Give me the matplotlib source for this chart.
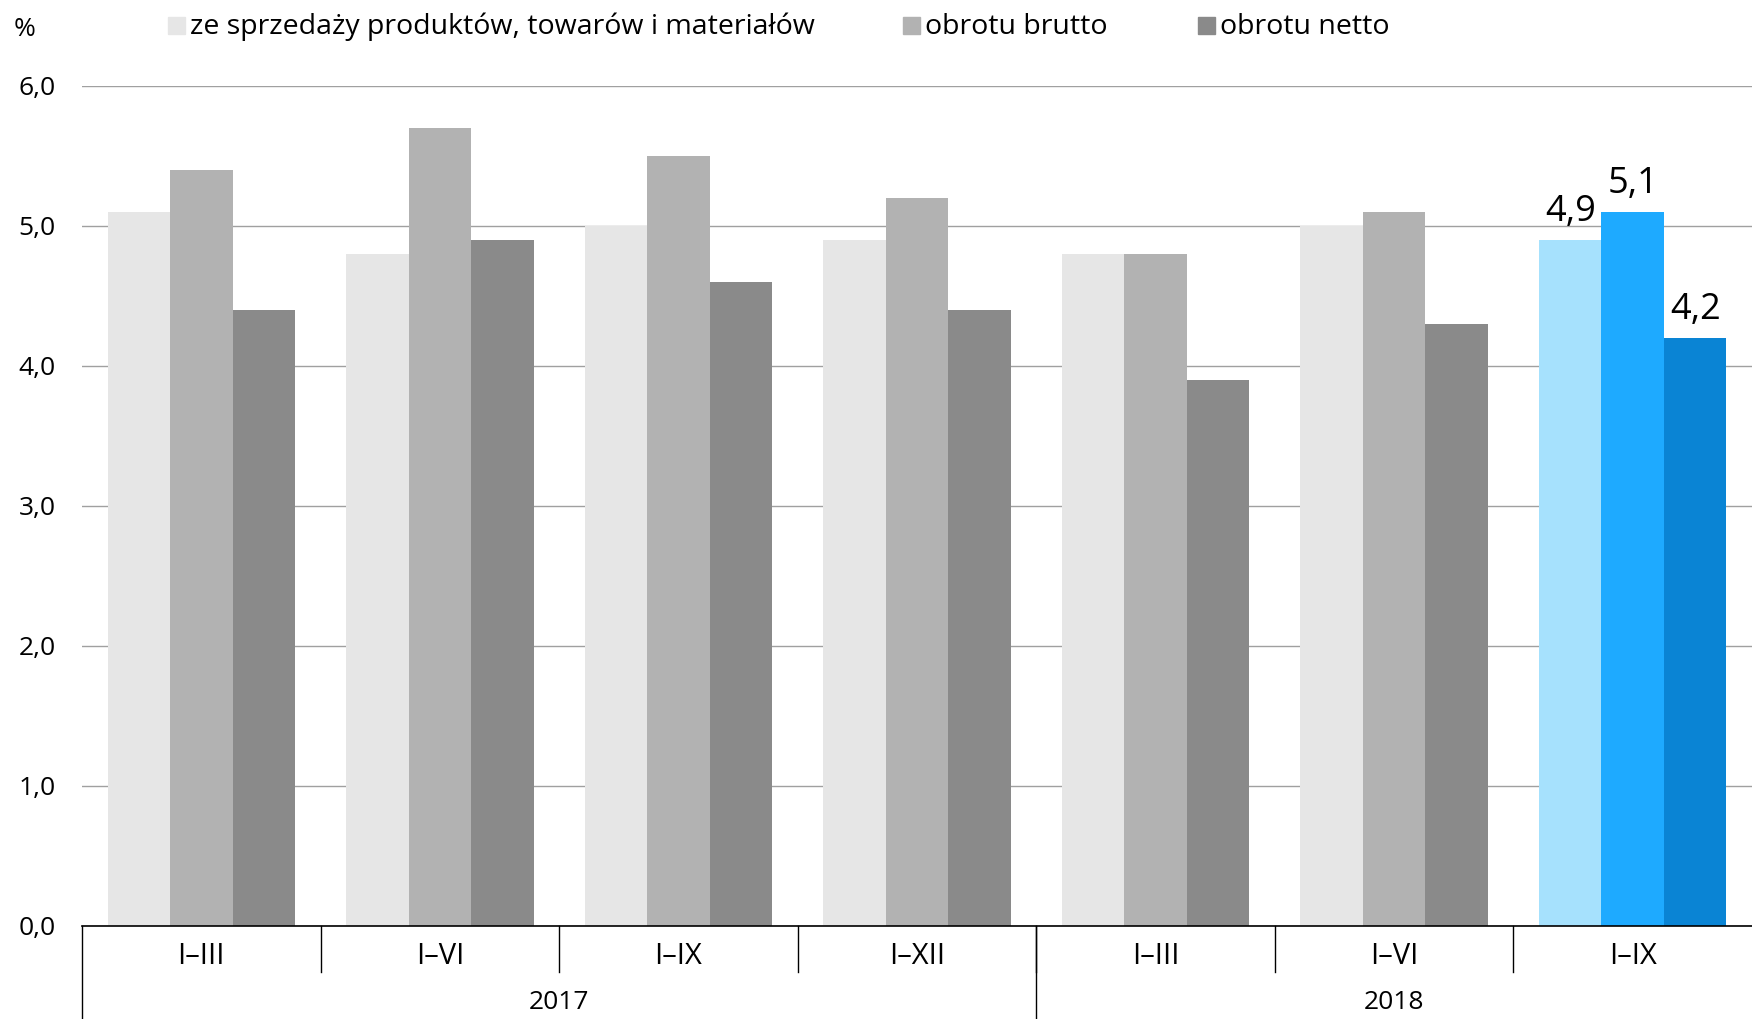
import matplotlib.pyplot as plt
from matplotlib.patches import Rectangle
import numpy as np

plt.rcParams['font.family'] = ['Open Sans', 'DejaVu Sans']

periods = ["I–III", "I–VI", "I–IX", "I–XII", "I–III", "I–VI", "I–IX"]
years = ["2017", "2018"]
year_spans = [(0, 3), (4, 6)]
series_names = ["ze sprzedaży produktów, towarów i materiałów", "obrotu brutto", "obrotu netto"]
sprzedaz = [5.1, 4.8, 5.0, 4.9, 4.8, 5.0, 4.9]
brutto = [5.4, 5.7, 5.5, 5.2, 4.8, 5.1, 5.1]
netto = [4.4, 4.9, 4.6, 4.4, 3.9, 4.3, 4.2]

grey_colors = ["#e6e6e6", "#b2b2b2", "#8a8a8a"]
blue_colors = ["#a6e1fd", "#1eaaff", "#0a84d4"]

fig = plt.figure(figsize=(17.52, 10.19), dpi=100)
ax = fig.add_axes([82 / 1752, 1 - 926 / 1019, 1 - 82 / 1752, 840 / 1019])

x = np.arange(len(periods))
w = 0.262
for i, vals in enumerate([sprzedaz, brutto, netto]):
    cols = [grey_colors[i]] * (len(periods) - 1) + [blue_colors[i]]
    ax.bar(x + (i - 1) * w, vals, width=w, color=cols, zorder=2)

# labels on the last (highlighted) group
last = len(periods) - 1
for i, vals in enumerate([sprzedaz, brutto, netto]):
    ax.text(last + (i - 1) * w, vals[last] + 0.07, f"{vals[last]:.1f}".replace(".", ","),
            ha="center", va="bottom", fontsize=26, clip_on=False)

ax.set_xlim(-0.5, len(periods) - 0.5)
ax.set_ylim(0, 6)
ax.set_yticks(np.arange(0, 7, 1))
ax.set_yticklabels([f"{v:.1f}".replace(".", ",") for v in range(7)], fontsize=19)
ax.tick_params(axis="y", length=0, pad=19)
ax.yaxis.grid(True, color="#a0a0a0", linewidth=1, zorder=0)
ax.set_axisbelow(True)
ax.set_xticks([])
for s in ["top", "right", "left"]:
    ax.spines[s].set_visible(False)
ax.spines["bottom"].set_color("black")
ax.spines["bottom"].set_linewidth(1.2)

# category axis below
trans = ax.get_xaxis_transform()
for b in np.arange(0.5, len(periods) - 1, 1):
    ax.plot([b, b], [0, -0.055], transform=trans, color="black", lw=1, clip_on=False)
for b in [-0.5, 3.5]:
    ax.plot([b, b], [0, -0.12], transform=trans, color="black", lw=1, clip_on=False)
for xi, lab in zip(x, periods):
    ax.text(xi, -0.036, lab, transform=trans, ha="center", va="center", fontsize=21)
for (a, b), yr in zip(year_spans, years):
    ax.text((a + b) / 2, -0.091, yr, transform=trans, ha="center", va="center", fontsize=19)

# legend
fig.text(14 / 1752, 1 - 30 / 1019, "%", fontsize=19, ha="left", va="center")
leg_sq = [168, 903, 1198]
for px, name, col in zip(leg_sq, series_names, grey_colors):
    fig.add_artist(Rectangle((px / 1752, 1 - 34 / 1019), 17 / 1752, 17 / 1019,
                             transform=fig.transFigure, color=col))
    fig.text((px + 22) / 1752, 1 - 27 / 1019, name, fontsize=20.5, ha="left", va="center")

fig.savefig("out.png", dpi=100)
